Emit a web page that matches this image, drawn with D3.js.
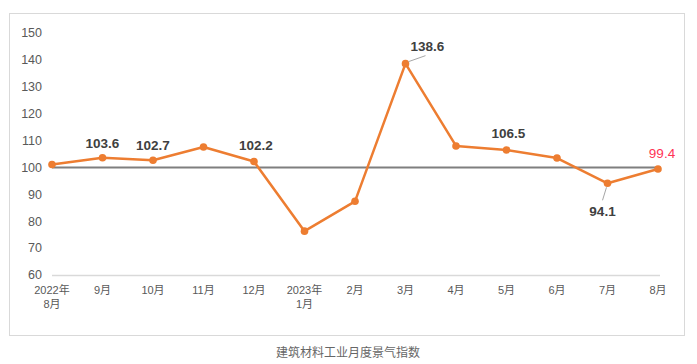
<!DOCTYPE html>
<html>
<head>
<meta charset="utf-8">
<script src="https://cdn.jsdelivr.net/npm/d3@7"></script>
<style>
  body { margin: 0; background: #fff; }
  svg { display: block; }
</style>
</head>
<body>
<div id="chart"></div>
<script>
// category labels (two lines where the year is shown)
var months = [["2022年", "8月"], ["9月"], ["10月"], ["11月"], ["12月"], ["2023年", "1月"],
  ["2月"], ["3月"], ["4月"], ["5月"], ["6月"], ["7月"], ["8月"]];
var values = [101.1, 103.6, 102.7, 107.6, 102.2, 76.3, 87.4, 138.6, 108.0, 106.5, 103.5, 94.1, 99.4];
var yTicks = [60, 70, 80, 90, 100, 110, 120, 130, 140, 150];
// which points carry a value label
var labelled = [1, 2, 4, 7, 9, 11, 12];
var baseline = 100;
var caption = "建筑材料工业月度景气指数";

var W = 697, H = 364;
var svg = d3.select("#chart").append("svg")
  .attr("width", W)
  .attr("height", H);

// outer frame
svg.append("rect")
  .attr("x", 9.5).attr("y", 13.5)
  .attr("width", 675).attr("height", 322)
  .attr("fill", "none")
  .attr("stroke", "#d9d9d9")
  .attr("stroke-width", 1);

var x = d3.scalePoint()
  .domain(d3.range(months.length))
  .range([52, 658]);

var y = d3.scaleLinear()
  .domain([60, 150])
  .range([275, 33]);

// y tick labels
svg.append("g").selectAll("text")
  .data(yTicks)
  .enter().append("text")
  .attr("x", 42)
  .attr("y", function(d) { return y(d); })
  .attr("dy", "0.35em")
  .attr("text-anchor", "end")
  .attr("font-family", "Liberation Sans, Arial, sans-serif")
  .attr("font-size", 12.5)
  .attr("fill", "#595959")
  .text(function(d) { return d; });

// category axis line
svg.append("line")
  .attr("x1", x(0)).attr("x2", x(months.length - 1) + 2)
  .attr("y1", y(60) + 0.5).attr("y2", y(60) + 0.5)
  .attr("stroke", "#d9d9d9")
  .attr("stroke-width", 1.5);

// x labels
var xl = svg.append("g").selectAll("text")
  .data(months)
  .enter().append("text")
  .attr("x", function(d, i) { return x(i); })
  .attr("y", 294)
  .attr("text-anchor", "middle")
  .attr("font-family", "Liberation Sans, Noto Sans CJK SC, sans-serif")
  .attr("font-size", 11)
  .attr("fill", "#595959");
xl.selectAll("tspan")
  .data(function(d) { return d; })
  .enter().append("tspan")
  .attr("x", function() { return d3.select(this.parentNode).attr("x"); })
  .attr("dy", function(d, i) { return i ? 14 : 0; })
  .text(function(d) { return d; });

// reference line at 100
svg.append("line")
  .attr("x1", x(0)).attr("x2", x(months.length - 1) + 2)
  .attr("y1", y(baseline)).attr("y2", y(baseline))
  .attr("stroke", "#7f7f7f")
  .attr("stroke-width", 2);

// series line
var line = d3.line()
  .x(function(d, i) { return x(i); })
  .y(function(d) { return y(d); });

svg.append("path")
  .datum(values)
  .attr("d", line)
  .attr("fill", "none")
  .attr("stroke", "#ED7D31")
  .attr("stroke-width", 2.5)
  .attr("stroke-linejoin", "round");

svg.append("g").selectAll("circle")
  .data(values)
  .enter().append("circle")
  .attr("cx", function(d, i) { return x(i); })
  .attr("cy", function(d) { return y(d); })
  .attr("r", 3.8)
  .attr("fill", "#ED7D31");

// label offsets relative to the point
var offs = {
  1: [0, -10], 2: [0, -10], 4: [2, -12], 7: [22, -13],
  9: [2, -12], 11: [-5, 33], 12: [4, -11]
};

// leader lines for the shifted labels
var leaders = [[7, [3, -2], [20, -8]], [11, [-1, 4], [-5, 17]]];
svg.append("g").selectAll("line")
  .data(leaders)
  .enter().append("line")
  .attr("x1", function(d) { return x(d[0]) + d[1][0]; })
  .attr("y1", function(d) { return y(values[d[0]]) + d[1][1]; })
  .attr("x2", function(d) { return x(d[0]) + d[2][0]; })
  .attr("y2", function(d) { return y(values[d[0]]) + d[2][1]; })
  .attr("stroke", "#a6a6a6")
  .attr("stroke-width", 1);

svg.append("g").selectAll("text")
  .data(labelled)
  .enter().append("text")
  .attr("x", function(i) { return x(i) + offs[i][0]; })
  .attr("y", function(i) { return y(values[i]) + offs[i][1]; })
  .attr("text-anchor", "middle")
  .attr("font-family", "Liberation Sans, Arial, sans-serif")
  .attr("font-size", 13.5)
  .attr("font-weight", function(i) { return i === 12 ? "normal" : "bold"; })
  .attr("fill", function(i) { return i === 12 ? "#ff3355" : "#404040"; })
  .text(function(i) { return values[i]; });

// caption
svg.append("text")
  .attr("x", 348)
  .attr("y", 357)
  .attr("text-anchor", "middle")
  .attr("font-family", "Noto Sans CJK SC, sans-serif")
  .attr("font-size", 12)
  .attr("fill", "#666666")
  .text(caption);
</script>
</body>
</html>
